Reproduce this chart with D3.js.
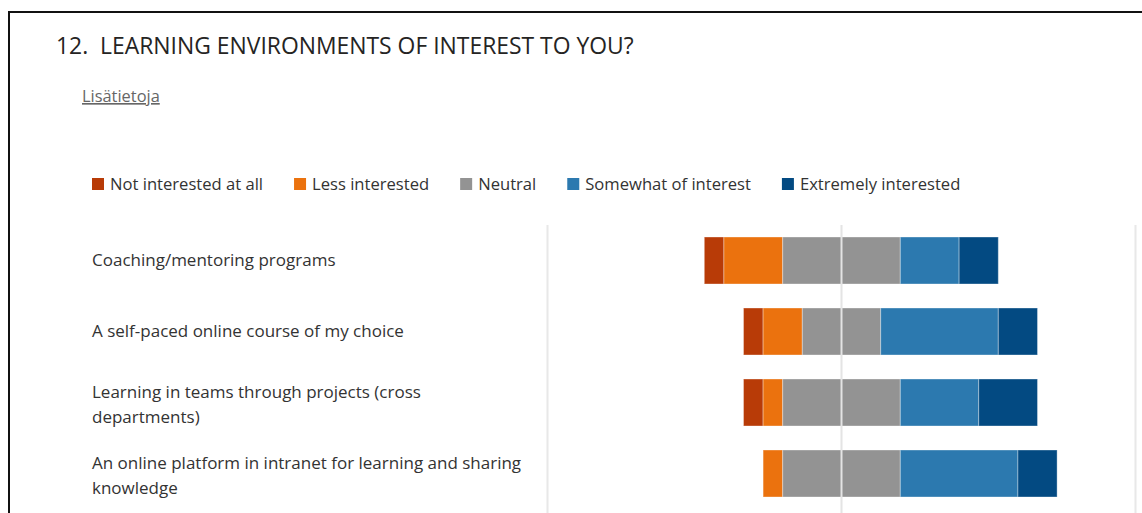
<!DOCTYPE html>
<html>
<head>
<meta charset="utf-8">
<script src="https://cdn.jsdelivr.net/npm/d3@7"></script>
<style>
  html, body { margin: 0; padding: 0; background: #fff; }
  svg { display: block; font-family: "Open Sans", "Noto Sans", sans-serif; }
</style>
</head>
<body>
<svg id="chart" width="1142" height="513"></svg>
<script>
// Survey question 12: response counts per learning environment
const categories = [
  "Coaching/mentoring programs",
  "A self-paced online course of my choice",
  "Learning in teams through projects (cross departments)",
  "An online platform in intranet for learning and sharing knowledge"
];
const responseLevels = [
  "Not interested at all",
  "Less interested",
  "Neutral",
  "Somewhat of interest",
  "Extremely interested"
];
const notInterested      = [1, 1, 1, 0];
const lessInterested     = [3, 2, 1, 1];
const neutral            = [6, 4, 6, 6];
const somewhatOfInterest = [3, 6, 4, 6];
const extremelyInterested = [2, 2, 3, 2];
const levelColors = ["#b83b07", "#eb720e", "#939393", "#2c79af", "#034a82"];

const series = [notInterested, lessInterested, neutral, somewhatOfInterest, extremelyInterested];

const svg = d3.select("#chart");
const W = 1142, H = 513;

// Page frame (top and left edges)
svg.append("path")
  .attr("d", `M9,${H} V12 H${W}`)
  .attr("fill", "none").attr("stroke", "#111").attr("stroke-width", 2);

// Heading
svg.append("text")
  .attr("x", 56).attr("y", 54)
  .attr("font-size", 22.9).attr("fill", "#252423")
  .attr("xml:space", "preserve")
  .text("12.  LEARNING ENVIRONMENTS OF INTEREST TO YOU?");

svg.append("text")
  .attr("x", 82).attr("y", 102)
  .attr("font-size", 16.4).attr("fill", "#666")
  .attr("text-decoration", "underline")
  .text("Lisätietoja");

// Legend
const legend = svg.append("g").attr("transform", "translate(92,184)");
let lx = 0;
responseLevels.forEach((name, i) => {
  const g = legend.append("g").attr("transform", `translate(${lx},0)`);
  g.append("rect").attr("x", 0).attr("y", -6).attr("width", 12).attr("height", 12)
    .attr("fill", levelColors[i]);
  const t = g.append("text").attr("x", 18).attr("y", 6)
    .attr("font-size", 16.6).attr("fill", "#333").text(name);
  lx += 18 + t.node().getComputedTextLength() + 31;
});

// Diverging layout: neutral split across the centre line
const rows = categories.map((c, i) => {
  const vals = series.map(s => s[i]);
  let x0 = -(vals[0] + vals[1] + vals[2] / 2);
  return vals.map((v, k) => {
    const seg = { cat: c, level: k, x0: x0, x1: x0 + v, v: v };
    x0 += v;
    return seg;
  });
});

const x = d3.scaleLinear().domain([-15, 15]).range([547.5, 1135.5]);
const y = d3.scaleBand().domain(categories).range([225, 509])
  .paddingInner(0.338).paddingOuter(0.169);

// Gridlines at both ends
const plot = svg.append("g");
[-15, 15].forEach(v => {
  plot.append("line")
    .attr("x1", x(v)).attr("x2", x(v)).attr("y1", 225).attr("y2", H)
    .attr("stroke", "#e8e8e8").attr("stroke-width", 2);
});

// Bars
plot.selectAll("g.row").data(rows).join("g").attr("class", "row")
  .selectAll("rect").data(d => d.filter(s => s.v > 0)).join("rect")
  .attr("x", d => x(d.x0))
  .attr("width", d => x(d.x1) - x(d.x0))
  .attr("y", d => y(d.cat))
  .attr("height", y.bandwidth())
  .attr("fill", d => levelColors[d.level])
  .attr("stroke", "rgba(255,255,255,0.35)")
  .attr("stroke-width", 1);

// Centre line
plot.append("line")
  .attr("x1", x(0)).attr("x2", x(0)).attr("y1", 225).attr("y2", H)
  .attr("stroke", "#e4e4e4").attr("stroke-width", 2);

// Category labels, wrapped
const labelSize = 17, lineH = 25, wrapW = 436;
categories.forEach(c => {
  const t = svg.append("text").attr("x", 92).attr("font-size", labelSize).attr("fill", "#333");
  const words = c.split(" ");
  const lines = [];
  let cur = [];
  const probe = t.append("tspan");
  words.forEach(w => {
    const trial = cur.concat(w).join(" ");
    probe.text(trial);
    if (probe.node().getComputedTextLength() > wrapW && cur.length) {
      lines.push(cur.join(" "));
      cur = [w];
    } else cur.push(w);
  });
  lines.push(cur.join(" "));
  probe.remove();
  const cy = y(c) + y.bandwidth() / 2 + (lines.length > 1 ? 2 : 0);
  const top = cy - (lines.length - 1) * lineH / 2;
  lines.forEach((ln, i) => {
    t.append("tspan").attr("x", 92).attr("y", top + i * lineH).attr("dy", "0.35em").text(ln);
  });
});
</script>
</body>
</html>
